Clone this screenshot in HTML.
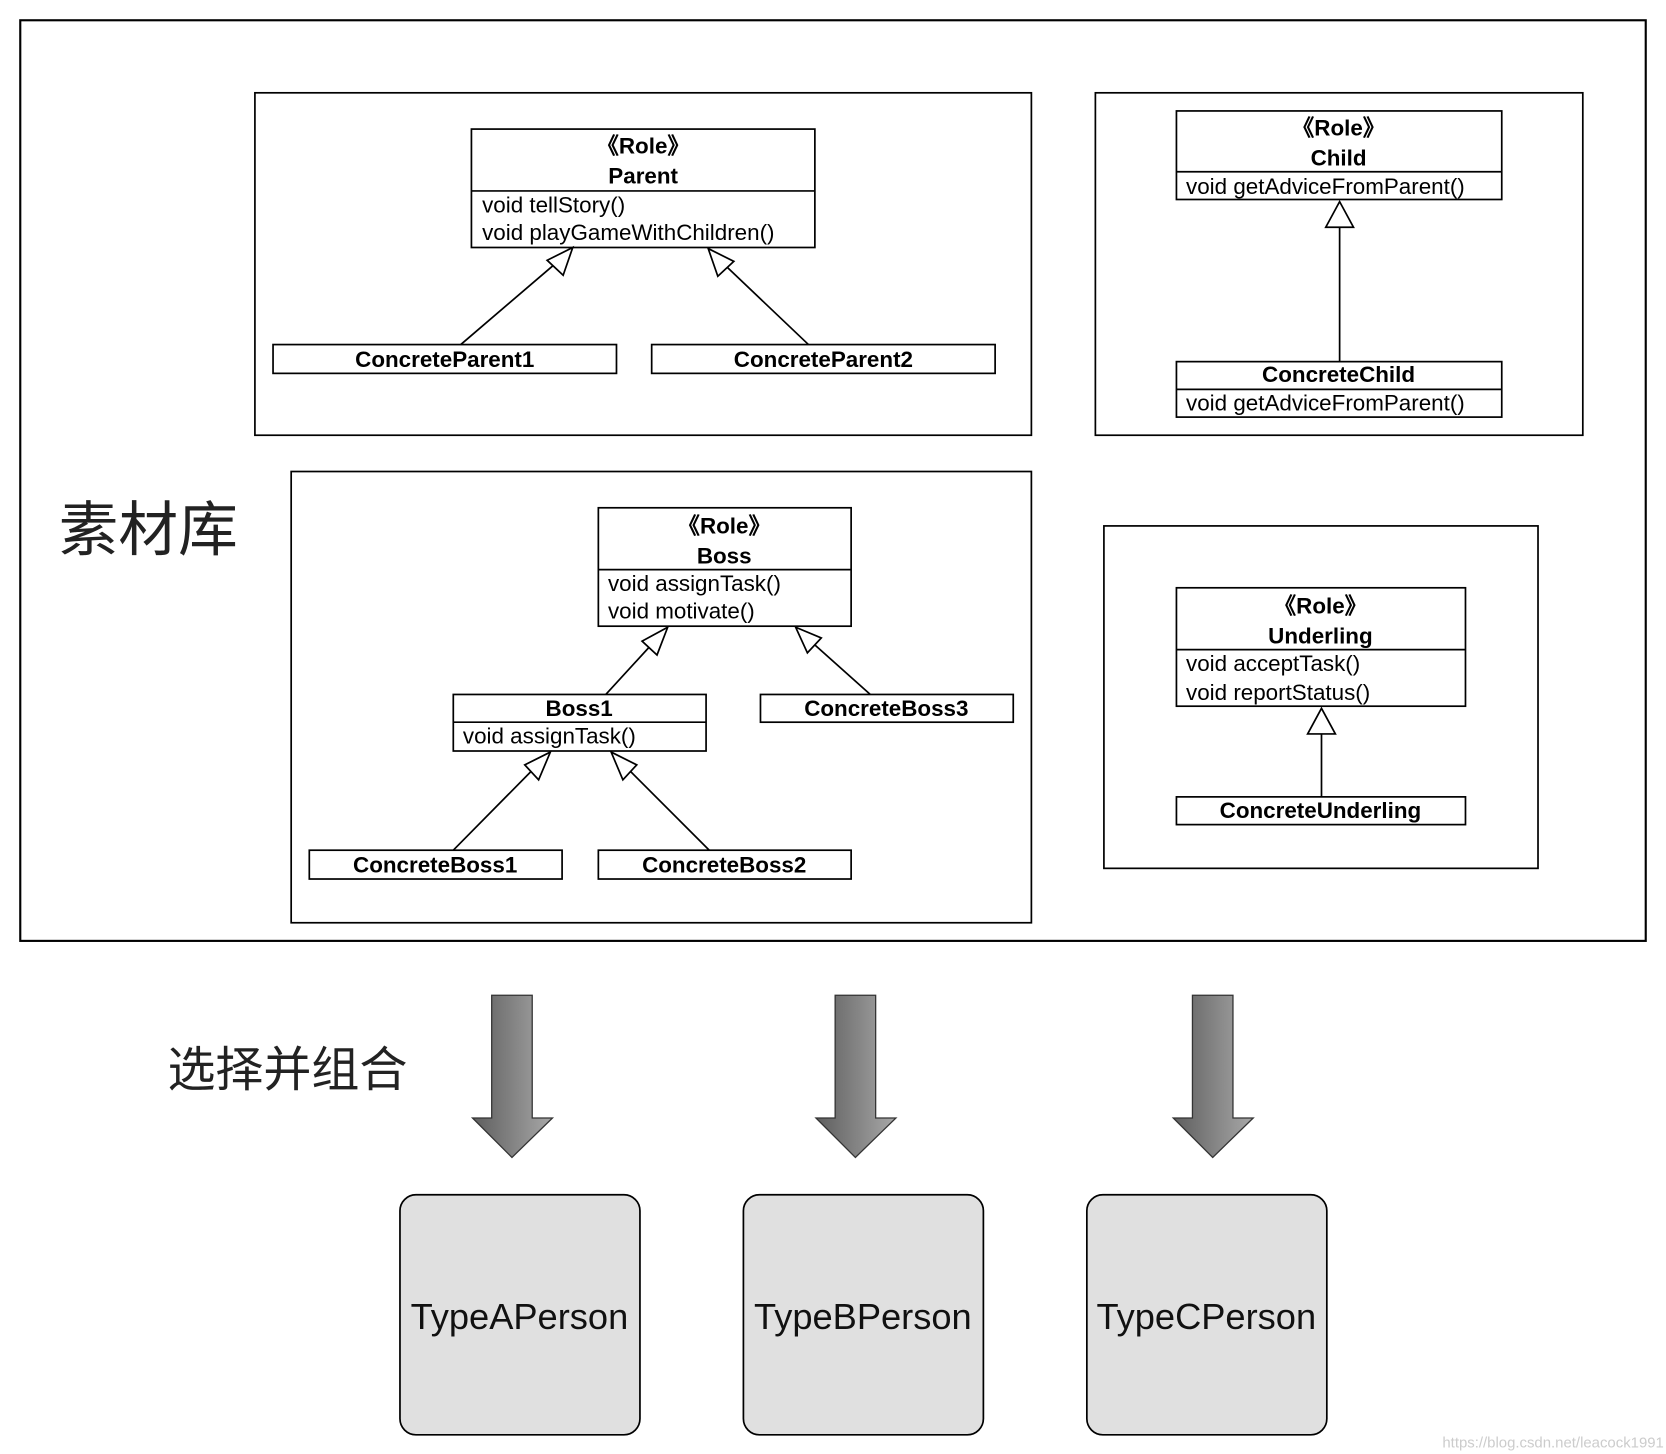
<!DOCTYPE html>
<html><head><meta charset="utf-8"><style>html,body{margin:0;padding:0;background:#fff}svg{display:block}</style></head><body>
<svg width="1666" height="1454" viewBox="0 0 1562 1363" preserveAspectRatio="none" xmlns="http://www.w3.org/2000/svg" font-family="Liberation Sans, sans-serif">
<defs>
<linearGradient id="g" x1="0" x2="1" y1="0" y2="0"><stop offset="0" stop-color="#5e5e5e"/><stop offset="1" stop-color="#a8a8a8"/></linearGradient>
</defs>
<g fill="none" stroke="#000" stroke-width="1.6">
<rect x="19" y="19" width="1524" height="863" stroke-width="2"/>
<rect x="239" y="87" width="728" height="321"/>
<rect x="1027" y="87" width="457" height="321"/>
<rect x="273" y="442" width="694" height="423"/>
<rect x="1035" y="493" width="407" height="321"/>
<rect x="442" y="121" width="322" height="111"/><line x1="442" y1="179" x2="764" y2="179"/>
<rect x="256" y="323" width="322" height="27"/><rect x="611" y="323" width="322" height="27"/>
<rect x="1103" y="104" width="305" height="83"/><line x1="1103" y1="161" x2="1408" y2="161"/>
<rect x="1103" y="339" width="305" height="52"/><line x1="1103" y1="365" x2="1408" y2="365"/>
<rect x="561" y="476" width="237" height="111"/><line x1="561" y1="534" x2="798" y2="534"/>
<rect x="425" y="651" width="237" height="53"/><line x1="425" y1="677" x2="662" y2="677"/>
<rect x="713" y="651" width="237" height="26"/>
<rect x="290" y="797" width="237" height="27"/><rect x="561" y="797" width="237" height="27"/>
<rect x="1103" y="551" width="271" height="111"/><line x1="1103" y1="609" x2="1374" y2="609"/>
<rect x="1103" y="747" width="271" height="26"/>
<!-- lines -->
<line x1="432" y1="323" x2="522" y2="246"/><polygon points="537,232 513,244 528,258" fill="#fff"/>
<line x1="758" y1="323" x2="677" y2="246"/><polygon points="664,233 688,245 673,259" fill="#fff"/>
<line x1="1256" y1="339" x2="1256" y2="213"/><polygon points="1256,189 1243,213 1269,213" fill="#fff"/>
<line x1="568" y1="651" x2="612" y2="603"/><polygon points="626,588 602,601 616,614" fill="#fff"/>
<line x1="816" y1="651" x2="760" y2="601"/><polygon points="746,588 770,598 757,612" fill="#fff"/>
<line x1="425" y1="797" x2="502" y2="719"/><polygon points="516,705 492,717 505,731" fill="#fff"/>
<line x1="665" y1="797" x2="587" y2="719"/><polygon points="573,705 597,717 584,731" fill="#fff"/>
<line x1="1239" y1="747" x2="1239" y2="688"/><polygon points="1239,664 1226,688 1252,688" fill="#fff"/>
</g>
<g font-size="21" fill="#000">
<g text-anchor="middle" font-weight="bold">
<text x="603" y="144">《Role》</text><text x="603" y="172">Parent</text>
<text x="417" y="344">ConcreteParent1</text><text x="772" y="344">ConcreteParent2</text>
<text x="1255" y="127">《Role》</text><text x="1255" y="155">Child</text>
<text x="1255" y="358">ConcreteChild</text>
<text x="679" y="500">《Role》</text><text x="679" y="528">Boss</text>
<text x="543" y="671">Boss1</text><text x="831" y="671">ConcreteBoss3</text>
<text x="408" y="818">ConcreteBoss1</text><text x="679" y="818">ConcreteBoss2</text>
<text x="1238" y="575">《Role》</text><text x="1238" y="603">Underling</text>
<text x="1238" y="767">ConcreteUnderling</text>
</g>
<text x="452" y="199">void tellStory()</text><text x="452" y="225">void playGameWithChildren()</text>
<text x="1112" y="182">void getAdviceFromParent()</text>
<text x="1112" y="385">void getAdviceFromParent()</text>
<text x="570" y="554">void assignTask()</text><text x="570" y="580">void motivate()</text>
<text x="434" y="697">void assignTask()</text>
<text x="1112" y="629">void acceptTask()</text><text x="1112" y="656">void reportStatus()</text>
</g>
<text x="55" y="516" font-size="56" font-family="Noto Sans CJK SC, sans-serif" fill="#222">素材库</text>
<text x="157" y="1018" font-size="45" font-family="Noto Sans CJK SC, sans-serif" fill="#222">选择并组合</text>
<g fill="url(#g)" stroke="#333" stroke-width="1.2">
<polygon points="461,933 499,933 499,1048 518,1048 480,1085 443,1048 461,1048"/>
<polygon points="783,933 821,933 821,1048 840,1048 802,1085 765,1048 783,1048"/>
<polygon points="1118,933 1156,933 1156,1048 1175,1048 1137,1085 1100,1048 1118,1048"/>
</g>
<g fill="#e0e0e0" stroke="#000" stroke-width="1.6">
<rect x="375" y="1120" width="225" height="225" rx="15"/>
<rect x="697" y="1120" width="225" height="225" rx="15"/>
<rect x="1019" y="1120" width="225" height="225" rx="15"/>
</g>
<g font-size="34" text-anchor="middle" fill="#111">
<text x="487" y="1246">TypeAPerson</text><text x="809" y="1246">TypeBPerson</text><text x="1131" y="1246">TypeCPerson</text>
</g>
<text x="1560" y="1357" font-size="14" text-anchor="end" fill="#ccc">https://blog.csdn.net/leacock1991</text>
</svg>
</body></html>
